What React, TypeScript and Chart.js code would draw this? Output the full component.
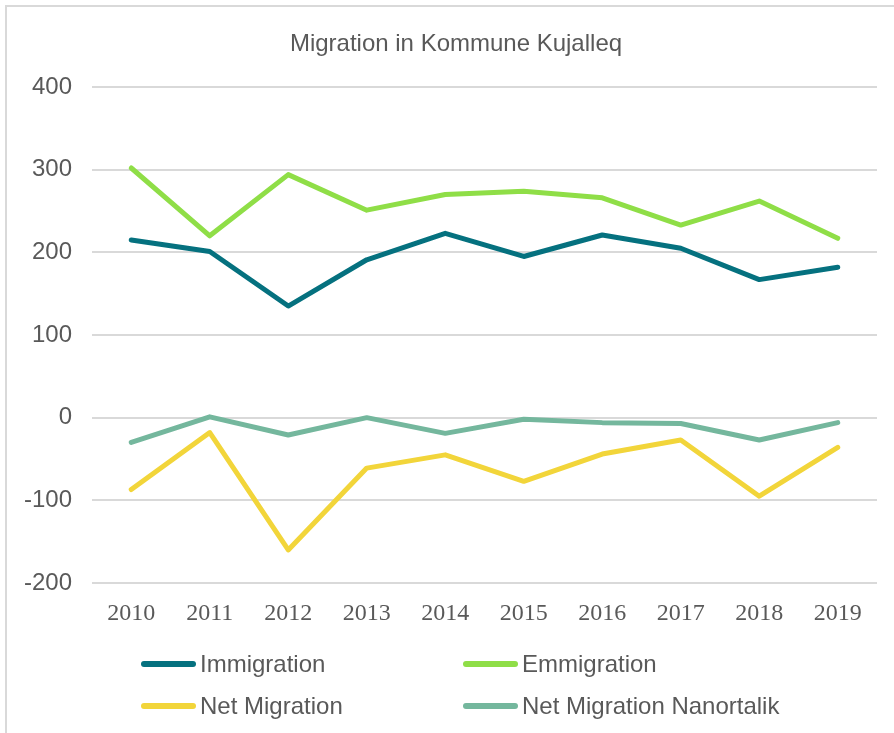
import React, { useEffect, useRef } from "react";
import { Chart, registerables } from "chart.js";

Chart.register(...registerables);

const years = ["2010", "2011", "2012", "2013", "2014", "2015", "2016", "2017", "2018", "2019"];
const immigration = [215, 201, 135, 191, 223, 195, 221, 205, 167, 182];
const emmigration = [302, 220, 294, 251, 270, 274, 266, 233, 262, 217];
const netMigration = [-87, -18, -160, -61, -45, -77, -44, -27, -95, -36];
const netNanortalik = [-30, 1, -21, 0, -19, -2, -6, -7, -27, -6];

const seriesNames = ["Immigration", "Emmigration", "Net Migration", "Net Migration Nanortalik"];
const seriesColors = ["#05717f", "#8fde47", "#f2d53a", "#74b79d"];
const seriesValues = [immigration, emmigration, netMigration, netNanortalik];

const yMin = -200;
const yMax = 400;
const yStep = 100;

export default function App() {
  const ref = useRef<HTMLCanvasElement | null>(null);

  useEffect(() => {
    if (!ref.current) return;
    const chart = new Chart(ref.current, {
      type: "line",
      data: {
        labels: years,
        datasets: seriesNames.map((name, i) => ({
          label: name,
          data: seriesValues[i],
          borderColor: seriesColors[i],
          backgroundColor: seriesColors[i],
          borderWidth: 5,
          pointRadius: 0,
          pointHoverRadius: 0,
          borderCapStyle: "round" as const,
          borderJoinStyle: "round" as const,
          tension: 0,
        })),
      },
      options: {
        animation: false,
        responsive: false,
        maintainAspectRatio: false,
        events: [],
        layout: { padding: { left: 0, right: 17, top: 87, bottom: 100 } },
        plugins: {
          legend: { display: false },
          title: { display: false },
          tooltip: { enabled: false },
        },
        scales: {
          x: {
            offset: true,
            grid: { display: false, drawTicks: false },
            border: { display: false },
            ticks: {
              color: "#595959",
              font: { family: "'Liberation Serif', 'Times New Roman', serif", size: 24 },
              padding: 16,
              maxRotation: 0,
              autoSkip: false,
            },
            afterFit: (scale: any) => {
              scale.height = 50;
            },
          },
          y: {
            min: yMin,
            max: yMax,
            grid: { color: "#d9d9d9", lineWidth: 2, drawTicks: false },
            border: { display: false },
            ticks: {
              stepSize: yStep,
              color: "#595959",
              font: { family: "'Liberation Sans', Arial, sans-serif", size: 24 },
              padding: 20,
            },
            afterFit: (scale: any) => {
              scale.width = 92;
            },
          },
        },
      },
    });
    return () => chart.destroy();
  }, []);

  const legendPos = [
    { left: 141, top: 664 },
    { left: 463, top: 664 },
    { left: 141, top: 706 },
    { left: 463, top: 706 },
  ];

  return (
    <div
      style={{
        position: "absolute",
        left: 0,
        top: 0,
        width: 894,
        height: 733,
        overflow: "hidden",
        background: "#ffffff",
      }}
    >
      <div
        style={{
          position: "absolute",
          left: 5,
          top: 5,
          width: 1000,
          height: 1000,
          border: "2px solid #d9d9d9",
          boxSizing: "border-box",
        }}
      />
      <canvas ref={ref} width={894} height={733} style={{ position: "absolute", left: 0, top: 0 }} />
      <div
        style={{
          position: "absolute",
          left: 0,
          width: 912,
          top: 28,
          textAlign: "center",
          fontFamily: "'Liberation Sans', Arial, sans-serif",
          fontSize: 24,
          lineHeight: "30px",
          color: "#595959",
        }}
      >
        Migration in Kommune Kujalleq
      </div>
      {seriesNames.map((name, i) => (
        <div
          key={name}
          style={{
            position: "absolute",
            left: legendPos[i].left,
            top: legendPos[i].top - 15,
            height: 30,
            display: "flex",
            alignItems: "center",
            fontFamily: "'Liberation Sans', Arial, sans-serif",
            fontSize: 24,
            color: "#595959",
            whiteSpace: "nowrap",
          }}
        >
          <span
            style={{
              display: "inline-block",
              width: 55,
              height: 6,
              borderRadius: 3,
              background: seriesColors[i],
              marginRight: 4,
            }}
          />
          <span>{name}</span>
        </div>
      ))}
    </div>
  );
}
